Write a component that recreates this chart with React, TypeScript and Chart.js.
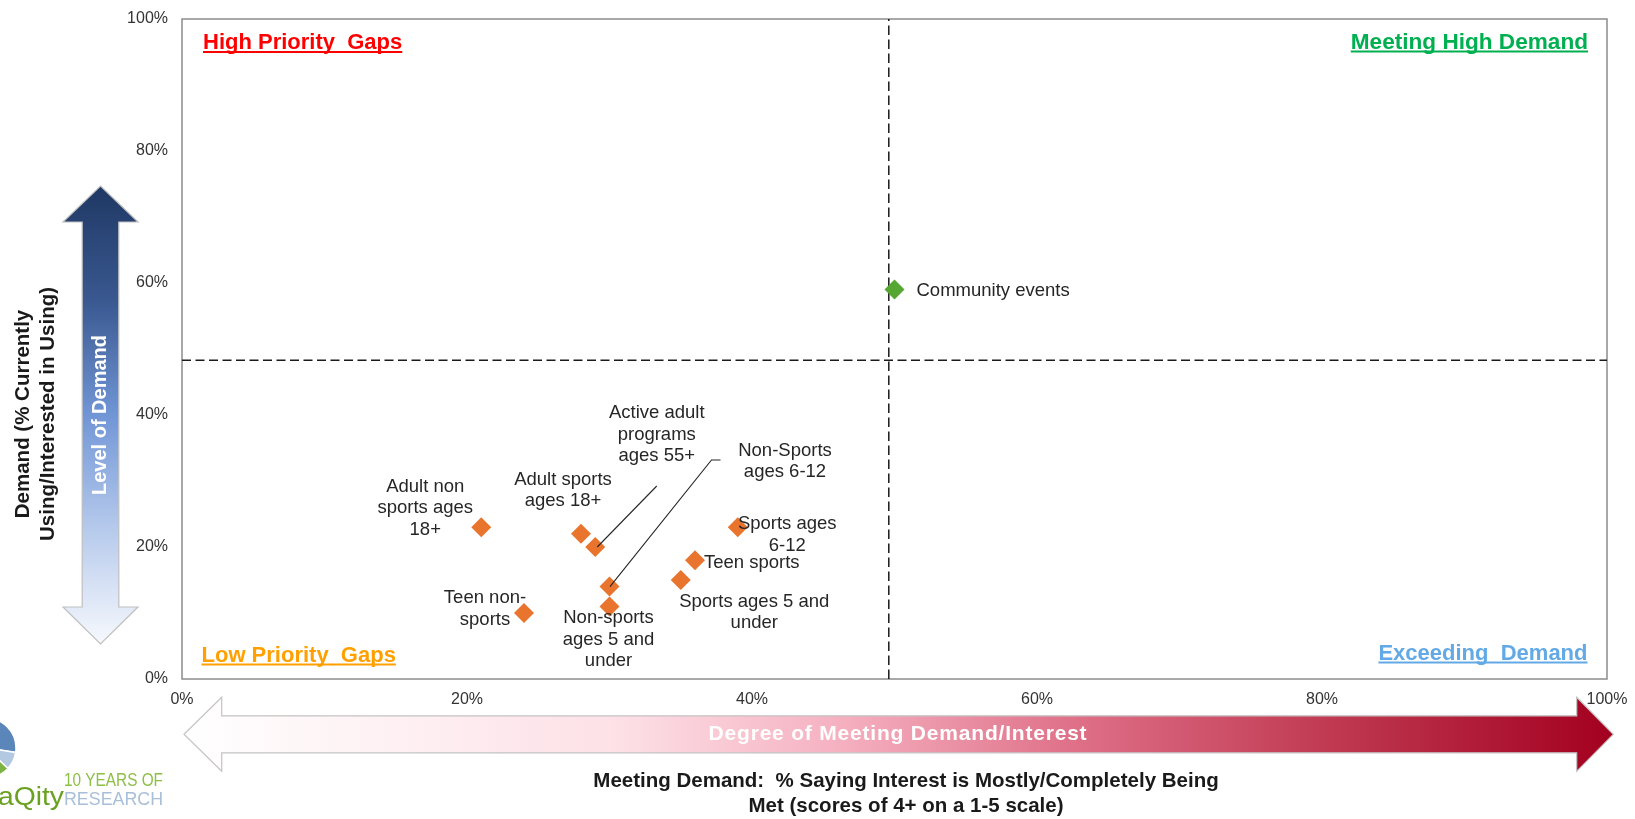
import React, { useEffect, useRef } from "react";
import { Chart, registerables } from "chart.js";

Chart.register(...registerables);

// ---------- data ----------
const programs = [
  "Adult non sports ages 18+",
  "Adult sports ages 18+",
  "Active adult programs ages 55+",
  "Non-Sports ages 6-12",
  "Non-sports ages 5 and under",
  "Teen non-sports",
  "Sports ages 6-12",
  "Teen sports",
  "Sports ages 5 and under",
];
const meetingDemandPct = [21, 28, 29, 30, 30, 24, 39, 36, 35];
const demandPct = [23, 22, 20, 14, 11, 10, 23, 18, 15];

const highlightPrograms = ["Community events"];
const highlightMeetingPct = [50];
const highlightDemandPct = [59];

const dividerMeetingPct = 49.6;
const dividerDemandPct = 48.3;

const tickValues = [0, 20, 40, 60, 80, 100];

const quadrantNames = ["High Priority  Gaps", "Meeting High Demand", "Low Priority  Gaps", "Exceeding  Demand"];
const yTitleLines = ["Demand (% Currently", "Using/Interested in Using)"];
const xTitleLines = ["Meeting Demand:  % Saying Interest is Mostly/Completely Being", "Met (scores of 4+ on a 1-5 scale)"];
const yArrowText = "Level of Demand";
const xArrowText = "Degree of Meeting Demand/Interest";

// ---------- label layout (styles / positions, not data) ----------
const labelLines = [
  ["Adult non", "sports ages", "18+"],
  ["Adult sports", "ages 18+"],
  ["Active adult", "programs", "ages 55+"],
  ["Non-Sports", "ages 6-12"],
  ["Non-sports", "ages 5 and", "under"],
  ["Teen non-", "sports"],
  ["Sports ages", "6-12"],
  ["Teen sports"],
  ["Sports ages 5 and", "under"],
];
const labelOffsets = [
  [-56, -40.5],
  [-18, -54],
  [61.5, -133.7],
  [175.5, -136],
  [-1, 12],
  [-39, -14.7],
  [49.5, -3],
  [56.7, 3],
  [73.5, 21.7],
];
const leaderOffsets: Record<number, number[][]> = {
  2: [[2, 0], [61.5, -61]],
  3: [[0.5, 0], [102, -126.6], [111, -126.6]],
};

const FONT = "'Liberation Sans', Arial, Helvetica, sans-serif";

function underlined(ctx: CanvasRenderingContext2D, text: string, x: number, base: number, align: "left" | "right", color: string, size = 22) {
  ctx.font = `bold ${size}px ${FONT}`;
  ctx.fillStyle = color;
  ctx.textAlign = align;
  ctx.textBaseline = "alphabetic";
  ctx.fillText(text, x, base);
  const w = ctx.measureText(text).width;
  const x0 = align === "left" ? x : x - w;
  ctx.fillRect(x0, base + 2, w, 2);
}

function fitText(ctx: CanvasRenderingContext2D, text: string, x: number, base: number, width: number, align: "left" | "right") {
  const w = ctx.measureText(text).width;
  const sx = width / w;
  ctx.save();
  ctx.translate(x, base);
  ctx.scale(sx, 1);
  ctx.textAlign = align;
  ctx.fillText(text, 0, 0);
  ctx.restore();
}

function zeroPadding(s: any) {
  s.paddingTop = 0;
  s.paddingBottom = 0;
  s.paddingLeft = 0;
  s.paddingRight = 0;
}

const decorPlugin = {
  id: "decor",
  beforeDatasetsDraw(chart: any) {
    const { ctx, chartArea: a } = chart;
    ctx.save();
    ctx.strokeStyle = "#8c8c8c";
    ctx.lineWidth = 1.5;
    ctx.strokeRect(a.left, a.top, a.right - a.left, a.bottom - a.top);
    ctx.restore();
  },
  afterDatasetsDraw(chart: any) {
    const { ctx, chartArea: a } = chart;
    ctx.save();

    // quadrant labels
    underlined(ctx, quadrantNames[0], a.left + 21, a.top + 30, "left", "#FF0000");
    underlined(ctx, quadrantNames[1], a.right - 19, a.top + 29.5, "right", "#00B050", 22.6);
    underlined(ctx, quadrantNames[2], a.left + 19.5, a.bottom - 17.5, "left", "#FFA000");
    underlined(ctx, quadrantNames[3], a.right - 19.5, a.bottom - 19.5, "right", "#62A9E6");

    // leader lines
    const meta = chart.getDatasetMeta(0);
    ctx.strokeStyle = "#262626";
    ctx.lineWidth = 1.1;
    Object.keys(leaderOffsets).forEach((k) => {
      const i = Number(k);
      const p = meta.data[i];
      const pts = leaderOffsets[i];
      ctx.beginPath();
      pts.forEach(([dx, dy], j) => {
        if (j === 0) ctx.moveTo(p.x + dx, p.y + dy);
        else ctx.lineTo(p.x + dx, p.y + dy);
      });
      ctx.stroke();
    });

    // point labels
    ctx.font = `18.5px ${FONT}`;
    ctx.fillStyle = "#262626";
    ctx.textBaseline = "middle";
    ctx.textAlign = "center";
    const lh = 21.5;
    labelLines.forEach((lines, i) => {
      const p = meta.data[i];
      const [dx, dy] = labelOffsets[i];
      lines.forEach((ln, j) => ctx.fillText(ln, p.x + dx, p.y + dy + j * lh));
    });
    const meta2 = chart.getDatasetMeta(1);
    ctx.textAlign = "left";
    highlightPrograms.forEach((name, i) => {
      const p = meta2.data[i];
      ctx.fillText(name, p.x + 22, p.y + 1);
    });

    ctx.restore();
  },
  afterDraw(chart: any) {
    const { ctx } = chart;
    ctx.save();

    // ---- vertical arrow (Level of Demand) ----
    const cx = 100.5, tipT = 186, baseT = 222, baseB = 607, tipB = 644, hw = 37.5, sw = 18.3;
    const vg = ctx.createLinearGradient(0, tipT, 0, tipB);
    vg.addColorStop(0, "#1F3864");
    vg.addColorStop(0.25, "#3A5890");
    vg.addColorStop(0.5, "#7196D6");
    vg.addColorStop(0.75, "#B6CAEC");
    vg.addColorStop(1, "#F7F9FD");
    ctx.beginPath();
    ctx.moveTo(cx, tipT);
    ctx.lineTo(cx + hw, baseT);
    ctx.lineTo(cx + sw, baseT);
    ctx.lineTo(cx + sw, baseB);
    ctx.lineTo(cx + hw, baseB);
    ctx.lineTo(cx, tipB);
    ctx.lineTo(cx - hw, baseB);
    ctx.lineTo(cx - sw, baseB);
    ctx.lineTo(cx - sw, baseT);
    ctx.lineTo(cx - hw, baseT);
    ctx.closePath();
    ctx.fillStyle = vg;
    ctx.fill();
    ctx.strokeStyle = "#BFBFBF";
    ctx.lineWidth = 1.2;
    ctx.stroke();
    ctx.save();
    ctx.translate(cx, 415);
    ctx.rotate(-Math.PI / 2);
    ctx.font = `bold 20px ${FONT}`;
    ctx.fillStyle = "#FFFFFF";
    ctx.textAlign = "center";
    ctx.textBaseline = "middle";
    ctx.fillText(yArrowText, 0, 0);
    ctx.restore();

    // ---- horizontal arrow ----
    const cy = 734.3, tipL = 184, baseL = 221.7, baseR = 1576.7, tipR = 1613.3, hh = 37, sh = 18.5;
    const hg = ctx.createLinearGradient(tipL, 0, tipR, 0);
    hg.addColorStop(0, "#FFFFFF");
    hg.addColorStop(0.3, "#FDE1E7");
    hg.addColorStop(0.46, "#F5B0C0");
    hg.addColorStop(0.62, "#DF7189");
    hg.addColorStop(0.8, "#C03A52");
    hg.addColorStop(1, "#A3001F");
    ctx.beginPath();
    ctx.moveTo(tipL, cy);
    ctx.lineTo(baseL, cy - hh);
    ctx.lineTo(baseL, cy - sh);
    ctx.lineTo(baseR, cy - sh);
    ctx.lineTo(baseR, cy - hh);
    ctx.lineTo(tipR, cy);
    ctx.lineTo(baseR, cy + hh);
    ctx.lineTo(baseR, cy + sh);
    ctx.lineTo(baseL, cy + sh);
    ctx.lineTo(baseL, cy + hh);
    ctx.closePath();
    ctx.fillStyle = hg;
    ctx.fill();
    ctx.strokeStyle = "#C4C4C4";
    ctx.lineWidth = 1.2;
    ctx.stroke();
    ctx.font = `bold 21px ${FONT}`;
    (ctx as any).letterSpacing = "0.8px";
    ctx.fillStyle = "#FFFFFF";
    ctx.textAlign = "center";
    ctx.textBaseline = "middle";
    ctx.fillText(xArrowText, 898, cy);
    (ctx as any).letterSpacing = "0px";

    // ---- axis titles ----
    ctx.fillStyle = "#1A1A1A";
    ctx.font = `bold 20.5px ${FONT}`;
    ctx.textAlign = "center";
    ctx.textBaseline = "middle";
    [23, 48].forEach((x, i) => {
      ctx.save();
      ctx.translate(x, 414);
      ctx.rotate(-Math.PI / 2);
      ctx.fillText(yTitleLines[i], 0, 0);
      ctx.restore();
    });
    ctx.fillText(xTitleLines[0], 906, 781);
    ctx.fillText(xTitleLines[1], 906, 806);

    // ---- logo fragment ----
    ctx.save();
    const pc = { x: -14, y: 748 }, pr = 30;
    const segs: [number, number, string][] = [
      [-Math.PI / 2, 0.15, "#5B86BA"],
      [0.15, 0.75, "#B3C8E1"],
      [0.75, 1.3, "#7CB342"],
    ];
    segs.forEach(([s, e, c]) => {
      ctx.beginPath();
      ctx.moveTo(pc.x, pc.y);
      ctx.arc(pc.x, pc.y, pr, s, e);
      ctx.closePath();
      ctx.fillStyle = c;
      ctx.fill();
      ctx.strokeStyle = "#FFFFFF";
      ctx.lineWidth = 1.5;
      ctx.stroke();
    });
    ctx.restore();
    ctx.textBaseline = "alphabetic";
    ctx.font = `18px ${FONT}`;
    ctx.fillStyle = "#8DBF45";
    fitText(ctx, "10 YEARS OF", 64, 786, 99, "left");
    ctx.fillStyle = "#A9BFD9";
    fitText(ctx, "RESEARCH", 64, 804.5, 99, "left");
    ctx.font = `26px ${FONT}`;
    ctx.fillStyle = "#6AA121";
    fitText(ctx, "aQity", 64, 805, 66, "right");

    ctx.restore();
  },
};

export default function App() {
  const ref = useRef<HTMLCanvasElement | null>(null);

  useEffect(() => {
    if (!ref.current) return;
    Chart.defaults.font.family = FONT;
    const chart = new Chart(ref.current, {
      type: "scatter",
      data: {
        datasets: [
          {
            label: "Programs",
            data: programs.map((_, i) => ({ x: meetingDemandPct[i], y: demandPct[i] })),
            pointStyle: "rectRot",
            pointRadius: 10,
            backgroundColor: "#E8742E",
            borderColor: "#E8742E",
            borderWidth: 0,
            order: 1,
          },
          {
            label: highlightPrograms[0],
            data: highlightPrograms.map((_, i) => ({ x: highlightMeetingPct[i], y: highlightDemandPct[i] })),
            pointStyle: "rectRot",
            pointRadius: 10,
            backgroundColor: "#56A632",
            borderColor: "#56A632",
            borderWidth: 0,
            order: 1,
          },
          {
            label: "v-divider",
            type: "line",
            data: [
              { x: dividerMeetingPct, y: 0 },
              { x: dividerMeetingPct, y: 100 },
            ],
            borderColor: "#1A1A1A",
            borderWidth: 1.5,
            borderDash: [9.5, 4.5],
            pointRadius: 0,
            order: 2,
          } as any,
          {
            label: "h-divider",
            type: "line",
            data: [
              { x: 0, y: dividerDemandPct },
              { x: 100, y: dividerDemandPct },
            ],
            borderColor: "#1A1A1A",
            borderWidth: 1.5,
            borderDash: [9, 4.5],
            pointRadius: 0,
            order: 2,
          } as any,
        ],
      },
      options: {
        responsive: false,
        animation: false,
        layout: { padding: { top: 19, right: 28, left: 0, bottom: 0 } },
        plugins: { legend: { display: false }, tooltip: { enabled: false } },
        scales: {
          x: {
            type: "linear",
            min: 0,
            max: 100,
            afterBuildTicks: (s: any) => {
              s.ticks = tickValues.map((v) => ({ value: v }));
            },
            ticks: {
              callback: (v: any) => `${v}%`,
              font: { size: 16, family: FONT },
              color: "#333333",
              padding: 11,
              maxRotation: 0,
            },
            grid: { display: false, drawTicks: false },
            border: { display: false },
            afterFit: (s: any) => {
              s.height = 140;
              zeroPadding(s);
            },
          },
          y: {
            type: "linear",
            min: 0,
            max: 100,
            afterBuildTicks: (s: any) => {
              s.ticks = tickValues.map((v) => ({ value: v }));
            },
            ticks: {
              callback: (v: any) => `${v}%`,
              font: { size: 16, family: FONT },
              color: "#333333",
              padding: 14,
            },
            grid: { display: false, drawTicks: false },
            border: { display: false },
            afterFit: (s: any) => {
              s.width = 182;
              zeroPadding(s);
            },
          },
        },
      },
      plugins: [decorPlugin],
    } as any);
    return () => chart.destroy();
  }, []);

  return (
    <div style={{ position: "absolute", left: 0, top: 0, width: 1635, height: 819, background: "#FFFFFF" }}>
      <canvas ref={ref} width={1635} height={819} style={{ display: "block" }} />
    </div>
  );
}
